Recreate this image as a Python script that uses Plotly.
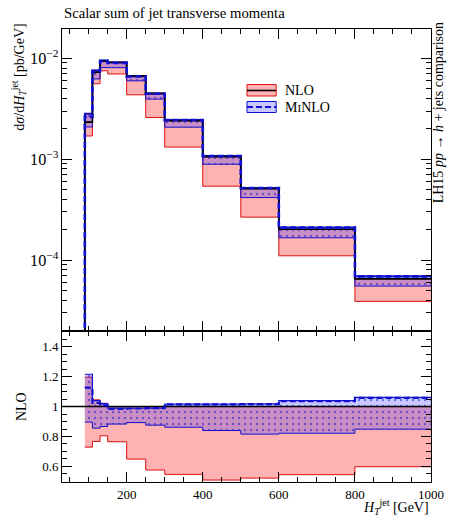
import plotly.graph_objects as go

# ---------------- data ----------------
bin_edges = [90, 110, 130, 150, 200, 250, 300, 400, 500, 600, 800, 1000]
ht_min = 30            # lower end of the HT axis (bin 30-90 is empty)
empty_value = 1e-9     # stands for the empty 30-90 bin on the log axis

# NLO central value, d sigma / d HT [pb/GeV]
nlo = [2.33e-3, 7.3e-3, 9.35e-3, 9.15e-3, 6.7e-3, 4.5e-3, 2.41e-3, 1.06e-3, 5.1e-4, 2.02e-4, 6.5e-5]
# NLO scale band, relative to NLO
nlo_ratio_lo = [0.729, 0.767, 0.805, 0.765, 0.649, 0.576, 0.547, 0.509, 0.522, 0.545, 0.598]
nlo_ratio_hi = [1.196, 1.045, 1.022, 1.0, 1.0, 1.0, 1.0, 1.0, 1.0, 1.0, 1.0]
# MiNLO central and band, relative to NLO
minlo_ratio = [1.127, 1.025, 1.008, 0.985, 0.987, 0.99, 1.015, 1.015, 1.016, 1.037, 1.058]
minlo_ratio_lo = [0.896, 0.856, 0.867, 0.883, 0.893, 0.876, 0.862, 0.84, 0.816, 0.822, 0.849]
minlo_ratio_hi = [1.216, 1.04, 1.02, 0.99, 0.99, 0.99, 1.017, 1.017, 1.018, 1.04, 1.062]

# ---------------- styles ----------------
RED = "#dd1111"
PINK = "rgba(255,0,0,0.30)"
BLUE = "#1010d0"
LBLUE = "rgba(30,30,255,0.24)"
FONT = "Liberation Serif"


def step(vals):
    return list(vals) + [vals[-1]]


def mul(a, b):
    return [x * y for x, y in zip(a, b)]


fig = go.Figure()

# ---------------- top panel ----------------
xe_top = [ht_min] + bin_edges


def top(vals):
    return step([empty_value] + list(vals))


nlo_lo = mul(nlo, nlo_ratio_lo)
nlo_hi = mul(nlo, nlo_ratio_hi)
mi = mul(nlo, minlo_ratio)
mi_lo = mul(nlo, minlo_ratio_lo)
mi_hi = mul(nlo, minlo_ratio_hi)


def add_panel(xe, f, xa, ya, ones, wide):
    # NLO band
    fig.add_trace(go.Scatter(x=xe, y=f(nlo_lo), mode="lines", line=dict(color=RED, width=1, shape="hv"),
                             xaxis=xa, yaxis=ya, showlegend=False, hoverinfo="skip"))
    fig.add_trace(go.Scatter(x=xe, y=f(nlo_hi), mode="lines", line=dict(color=RED, width=1, shape="hv"),
                             fill="tonexty", fillcolor=PINK,
                             xaxis=xa, yaxis=ya, showlegend=False, hoverinfo="skip"))
    # MiNLO band
    fig.add_trace(go.Scatter(x=xe, y=f(mi_lo), mode="lines", line=dict(color=BLUE, width=1, shape="hv"),
                             xaxis=xa, yaxis=ya, showlegend=False, hoverinfo="skip"))
    fig.add_trace(go.Scatter(x=xe, y=f(mi_hi), mode="lines",
                             line=dict(color=BLUE, width=1.8 if wide else 1.2, shape="hv"),
                             fill="tonexty", fillcolor=LBLUE,
                             fillpattern=dict(shape=".", fgcolor="rgba(0,0,200,0.9)", size=6,
                                              solidity=0.12, fillmode="overlay"),
                             xaxis=xa, yaxis=ya, showlegend=False, hoverinfo="skip"))
    # NLO central
    if ones is None:
        fig.add_trace(go.Scatter(x=xe, y=f(nlo), mode="lines", line=dict(color="black", width=1.6, shape="hv"),
                                 xaxis=xa, yaxis=ya, showlegend=False, hoverinfo="skip"))
    else:
        fig.add_trace(go.Scatter(x=ones[0], y=ones[1], mode="lines",
                                 line=dict(color="black", width=1.6, shape="hv"),
                                 xaxis=xa, yaxis=ya, showlegend=False, hoverinfo="skip"))
    # MiNLO central
    fig.add_trace(go.Scatter(x=xe, y=f(mi), mode="lines",
                             line=dict(color=BLUE, width=2.6 if wide else 2.2, shape="hv", dash="6px,3px"),
                             xaxis=xa, yaxis=ya, showlegend=False, hoverinfo="skip"))


add_panel(xe_top, top, "x", "y", None, True)

# ---------------- ratio panel ----------------
nlo_r = [v / n for v, n in zip(nlo, nlo)]


def rat(vals):
    return step([v / n for v, n in zip(vals, nlo)])


ones_x = [ht_min] + bin_edges
ones_y = step([1.0] + nlo_r)
add_panel(bin_edges, rat, "x2", "y2", (ones_x, ones_y), False)

# ---------------- layout ----------------
W, H = 456, 519
ML, MR, MT, MB = 62, 15, 29, 37
PW, PH = W - ML - MR, H - MT - MB


def px(x):
    return (x - ML) / PW


def py(y):
    return (H - MB - y) / PH


axis_common = dict(showline=True, linecolor="black", linewidth=1, mirror="allticks",
                   ticks="inside", ticklen=10, tickwidth=1, tickcolor="black",
                   showgrid=False, zeroline=False,
                   tickfont=dict(family=FONT, size=13, color="black"))

fig.update_layout(
    width=W, height=H,
    margin=dict(l=ML, r=MR, t=MT, b=MB),
    paper_bgcolor="white", plot_bgcolor="white",
    showlegend=False,
    font=dict(family=FONT, size=14, color="black"),
    xaxis=dict(domain=[0, 1], anchor="y", range=[ht_min, 1000], tick0=0, dtick=200,
               showticklabels=False,
               minor=dict(ticks="inside", ticklen=5, dtick=50, tickcolor="black"),
               **axis_common),
    yaxis=dict(domain=[1 / 3, 1], anchor="x", type="log", range=[-4.704, -1.709], dtick=1,
               exponentformat="power", showexponent="all",
               minor=dict(ticks="inside", ticklen=5, dtick="D1", tickcolor="black"),
               **axis_common),
    xaxis2=dict(domain=[0, 1], anchor="y2", matches="x", range=[ht_min, 1000], tick0=0, dtick=200,
                minor=dict(ticks="inside", ticklen=5, dtick=50, tickcolor="black"),
                **axis_common),
    yaxis2=dict(domain=[0, 1 / 3], anchor="x2", range=[0.496, 1.505], tick0=0, dtick=0.2,
                minor=dict(ticks="inside", ticklen=5, dtick=0.05, tickcolor="black"),
                **axis_common),
)

ann = []
ann.append(dict(text="Scalar sum of jet transverse momenta", x=0, y=py(13), xref="paper", yref="paper",
                xanchor="left", yanchor="middle", showarrow=False, font=dict(size=14.7)))
ann.append(dict(text="d<i>σ</i>/d<i>H</i><sub><i>T</i></sub><sup>jet</sup> [pb/GeV]",
                x=px(18), y=py(22), xref="paper", yref="paper", textangle=-90,
                xanchor="center", yanchor="top", showarrow=False, font=dict(size=14)))
ann.append(dict(text="NLO", x=px(20), y=py(407), xref="paper", yref="paper", textangle=-90,
                xanchor="center", yanchor="middle", showarrow=False, font=dict(size=14)))
ann.append(dict(text="LH15 <i>pp</i> → <i>h</i> + jets comparison",
                x=px(449), y=py(20), xref="paper", yref="paper", textangle=-90,
                xanchor="center", yanchor="top", showarrow=False, font=dict(size=14)))
ann.append(dict(text="<i>H</i><sub><i>T</i></sub><sup>jet</sup> [GeV]", x=1, y=py(507),
                xref="paper", yref="paper", xanchor="right", yanchor="middle", showarrow=False,
                font=dict(size=14)))
# legend texts
ann.append(dict(text="NLO", x=px(289), y=py(90.5), xref="paper", yref="paper",
                xanchor="left", yanchor="middle", showarrow=False, font=dict(size=14)))
ann.append(dict(text="M<span style='font-size:11px'>I</span>NLO", x=px(289), y=py(107),
                xref="paper", yref="paper", xanchor="left", yanchor="middle", showarrow=False,
                font=dict(size=14)))
fig.update_layout(annotations=ann)

shapes = [
    dict(type="rect", xref="paper", yref="paper", x0=px(252), x1=px(282), y0=py(96), y1=py(84.5),
         fillcolor=PINK, line=dict(color=RED, width=1)),
    dict(type="line", xref="paper", yref="paper", x0=px(252), x1=px(282), y0=py(90.5), y1=py(90.5),
         line=dict(color="black", width=1.6)),
    dict(type="rect", xref="paper", yref="paper", x0=px(252), x1=px(282), y0=py(112.5), y1=py(101.5),
         fillcolor=LBLUE, line=dict(color=BLUE, width=1)),
    dict(type="line", xref="paper", yref="paper", x0=px(252), x1=px(282), y0=py(107), y1=py(107),
         line=dict(color=BLUE, width=2.2, dash="6px,3px")),
]
fig.update_layout(shapes=shapes)

fig.write_html("out.html", config={"displayModeBar": False},
               post_script="document.body.style.margin='0';document.body.style.padding='0';")
